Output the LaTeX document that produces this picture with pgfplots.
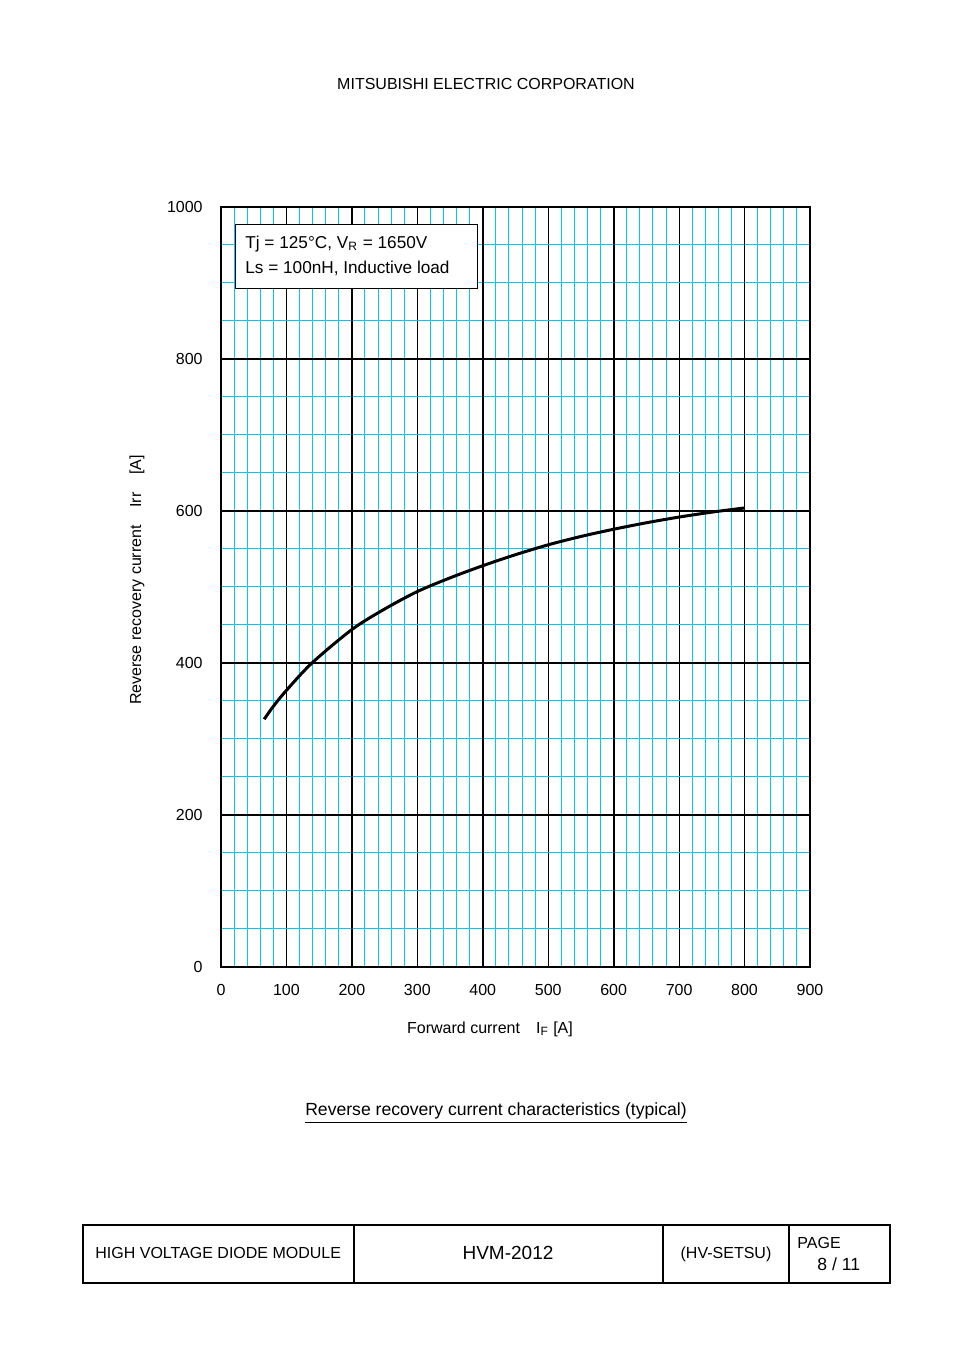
\documentclass[border=0pt]{standalone}
\usepackage{fontspec}
\setmainfont{Liberation Sans}
\usepackage{pgfplots}
\pgfplotsset{compat=1.18}
\definecolor{gridcyan}{RGB}{0,200,240}
\begin{document}
\fontsize{8}{9.6}\selectfont
\begin{tikzpicture}
\path[use as bounding box] (0pt,0pt) rectangle (477pt,675pt);
\node[anchor=center] at (243pt,633pt) {MITSUBISHI ELECTRIC CORPORATION};
\begin{axis}[
  at={(110.5pt,191.5pt)}, anchor=south west,
  scale only axis, width=294.5pt, height=380pt,
  xmin=0, xmax=900, ymin=0, ymax=1000,
  xtick={0,100,...,900}, ytick={0,200,...,1000},
  minor x tick num=4, minor y tick num=3,
  grid=both,
  major grid style={black, line width=0.5pt},
  minor grid style={gridcyan, line width=0.5pt},
  extra x ticks={200,400,600,800}, extra x tick labels={},
  extra x tick style={major grid style={black, line width=0.9pt}},
  extra y ticks={200,400,600,800}, extra y tick labels={},
  extra y tick style={major grid style={black, line width=0.9pt}},
  major tick length=0pt, minor tick length=0pt,
  axis line style={line width=0.6pt},
  /pgf/number format/assume math mode=true,
  /pgf/number format/1000 sep={},
  xticklabel style={font=\fontsize{8}{9.6}\selectfont, inner sep=0pt, anchor=center, yshift=-11.5pt},
  yticklabel style={font=\fontsize{8}{9.6}\selectfont, inner sep=0pt, anchor=east, xshift=-9pt},
  scaled ticks=false,
]
\addplot[black, line width=1.5pt, smooth, tension=0.5] coordinates {
 (66,326) (80,343) (100,364) (139,400) (200,444) (250,471)
 (300,494) (350,512) (400,528) (450,542.5) (500,555.5) (550,566.5) (600,576)
 (650,584.5) (700,592) (750,598.5) (800,604)
};
\draw[line width=1.1pt] (rel axis cs:0,1) -- (rel axis cs:0,0) -- (rel axis cs:1,0);
\end{axis}
% legend box
\draw[line width=0.5pt, fill=white] (117.5pt,530.5pt) rectangle (238.5pt,562.5pt);
\node[anchor=west, inner sep=0pt, font=\fontsize{8.6}{10}\selectfont] at (122.5pt,553pt) {Tj = 125°C, V\textsubscript{R} = 1650V};
\node[anchor=west, inner sep=0pt, font=\fontsize{8.6}{10}\selectfont] at (122.5pt,541pt) {Ls = 100nH, Inductive load};
% axis labels
\node[anchor=center] at (245pt,160.5pt) {Forward current\hspace{1em}I\textsubscript{F} [A]};
\node[anchor=center, rotate=90] at (68.5pt,385pt) {Reverse recovery current\hspace{1.1em}Irr\hspace{1.1em}[A]};
% caption
\node[anchor=center, font=\fontsize{8.8}{10.5}\selectfont] at (248pt,118.5pt) {\underline{Reverse recovery current characteristics (typical)}};
% bottom table
\draw[line width=1.2pt] (41.5pt,33.5pt) rectangle (445pt,62.5pt);
\draw[line width=1.2pt] (177pt,33.5pt) -- (177pt,62.5pt);
\draw[line width=1.2pt] (331.5pt,33.5pt) -- (331.5pt,62.5pt);
\draw[line width=1.2pt] (394.5pt,33.5pt) -- (394.5pt,62.5pt);
\node[anchor=west, inner sep=0pt] at (47.5pt,48.5pt) {HIGH VOLTAGE DIODE MODULE};
\node[anchor=center, font=\fontsize{9.5}{11}\selectfont] at (254pt,48.5pt) {HVM-2012};
\node[anchor=center] at (363pt,48pt) {(HV-SETSU)};
\node[anchor=west, inner sep=0pt] at (398.5pt,53.5pt) {PAGE};
\node[anchor=west, inner sep=0pt, font=\fontsize{8.8}{10.5}\selectfont] at (408.5pt,43pt) {8 / 11};
\end{tikzpicture}
\end{document}
